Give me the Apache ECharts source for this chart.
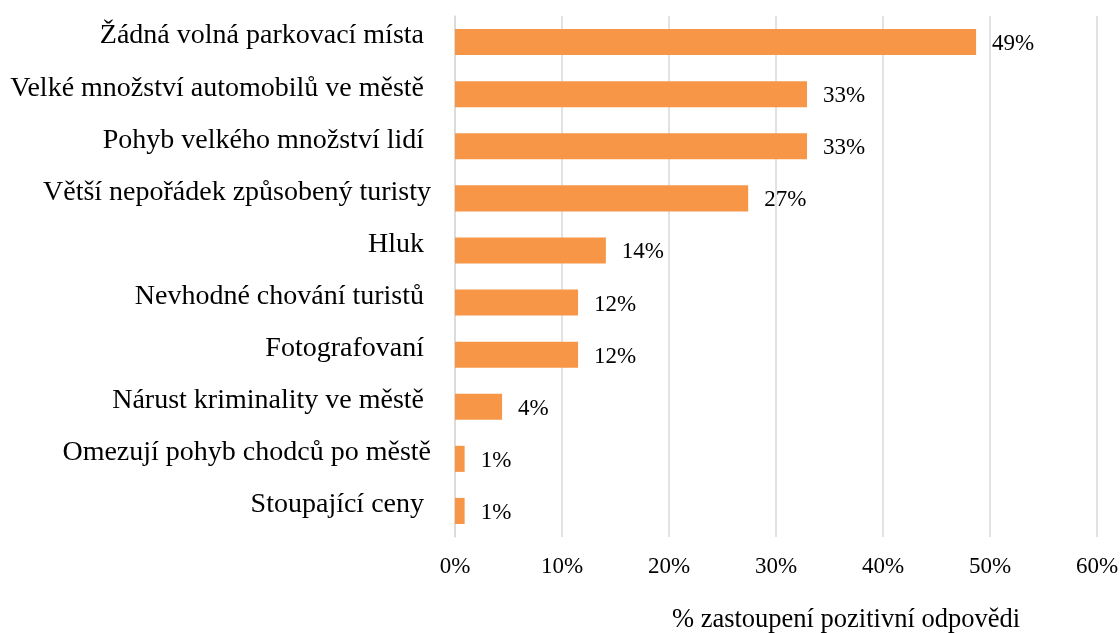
<!DOCTYPE html>
<html>
<head>
<meta charset="utf-8">
<script src="https://cdn.jsdelivr.net/npm/echarts@6/dist/echarts.min.js"></script>
<style>
  html, body { margin: 0; padding: 0; background: #fff; }
  #barChart { width: 1120px; height: 633px; }
</style>
</head>
<body>
<div id="barChart"></div>
<script>
  // kategorie (shora dolu), nektere maji v puvodnim grafu mezeru na konci
  var categories = [
    'Žádná volná parkovací místa ',
    'Velké množství automobilů ve městě ',
    'Pohyb velkého množství lidí ',
    'Větší nepořádek způsobený turisty',
    'Hluk ',
    'Nevhodné chování turistů ',
    'Fotografovaní ',
    'Nárust kriminality ve městě ',
    'Omezují pohyb chodců po městě',
    'Stoupající ceny '
  ];
  // % zastoupeni pozitivni odpovedi
  var values = [48.7, 32.9, 32.9, 27.4, 14.1, 11.5, 11.5, 4.4, 0.9, 0.9];
  var tickValues = [0, 10, 20, 30, 40, 50, 60];
  var axisName = '% zastoupení pozitivní odpovědi';

  var font = '"Liberation Serif", "Times New Roman", serif';
  var gridColor = '#d9d9d9';

  var chart = echarts.init(document.getElementById('barChart'));
  var option = {
    animation: false,
    grid: {
      left: 455,
      right: 23,
      top: 16,
      bottom: 96,
      containLabel: false,
      outerBoundsMode: 'none'
    },
    xAxis: {
      type: 'value',
      min: tickValues[0],
      max: tickValues[tickValues.length - 1],
      interval: tickValues[1] - tickValues[0],
      axisLine: { show: false },
      axisTick: { show: false },
      axisLabel: {
        formatter: '{value}%',
        color: '#000',
        fontFamily: font,
        fontSize: 23,
        lineHeight: 23,
        margin: 18
      },
      splitLine: {
        show: true,
        lineStyle: { color: gridColor, width: 1.5 }
      },
      name: axisName,
      nameLocation: 'middle',
      nameGap: 70,
      nameTextStyle: {
        color: '#000',
        fontFamily: font,
        fontSize: 26.5,
        lineHeight: 26,
        padding: [0, 0, 0, 140]
      }
    },
    yAxis: {
      type: 'category',
      inverse: true,
      data: categories,
      axisLine: {
        show: true,
        lineStyle: { color: gridColor, width: 1.5 }
      },
      axisTick: { show: false },
      axisLabel: {
        color: '#000',
        fontFamily: font,
        fontSize: 28,
        margin: 24,
        verticalAlign: 'bottom',
        lineHeight: 12
      }
    },
    series: [{
      type: 'bar',
      data: values,
      barCategoryGap: '50%',
      itemStyle: { color: '#F79646' },
      label: {
        show: true,
        position: 'right',
        distance: 16,
        offset: [0, 2],
        color: '#000',
        fontFamily: font,
        fontSize: 23,
        formatter: function (params) {
          return Math.round(params.value) + '%';
        }
      }
    }]
  };
  chart.setOption(option);
</script>
</body>
</html>
